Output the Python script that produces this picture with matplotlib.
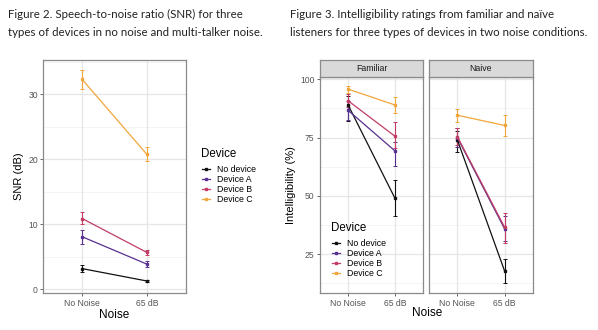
import matplotlib.pyplot as plt
import numpy as np
from matplotlib.lines import Line2D

noise_levels = ["No Noise", "65 dB"]
devices = ["No device", "Device A", "Device B", "Device C"]
colors = ["#111111", "#58308F", "#C23C64", "#F1A63C"]

# Figure 2: SNR (dB) mean, lower, upper
snr_mean = {"No device": [3.2, 1.3], "Device A": [8.1, 3.9], "Device B": [10.9, 5.7], "Device C": [32.3, 20.8]}
snr_low = {"No device": [2.7, 1.2], "Device A": [7.0, 3.4], "Device B": [10.0, 5.3], "Device C": [30.9, 19.8]}
snr_high = {"No device": [3.7, 1.4], "Device A": [9.2, 4.3], "Device B": [11.9, 6.1], "Device C": [33.8, 21.9]}

# Figure 3: intelligibility (%) for familiar / naive listeners
fam_mean = {"No device": [89.0, 49.0], "Device A": [86.7, 69.3], "Device B": [90.8, 75.6], "Device C": [95.8, 89.0]}
fam_low = {"No device": [82.0, 41.3], "Device A": [82.5, 62.8], "Device B": [88.0, 70.5], "Device C": [94.2, 85.5]}
fam_high = {"No device": [93.0, 56.7], "Device A": [90.5, 73.0], "Device B": [93.5, 81.7], "Device C": [97.3, 92.4]}

nai_mean = {"No device": [74.0, 17.7], "Device A": [75.0, 35.8], "Device B": [75.4, 36.5], "Device C": [84.6, 80.2]}
nai_low = {"No device": [69.0, 12.4], "Device A": [71.0, 30.5], "Device B": [72.0, 29.8], "Device C": [81.7, 75.6]}
nai_high = {"No device": [78.0, 22.7], "Device A": [79.0, 41.5], "Device B": [79.0, 42.6], "Device C": [87.4, 84.9]}

W, H = 598, 330
fig = plt.figure(figsize=(W / 100, H / 100), dpi=100)
plt.rcParams["font.family"] = ["Liberation Sans", "DejaVu Sans"]


def px_axes(x0, y0, x1, y1):
    return fig.add_axes([x0 / W, 1 - y1 / H, (x1 - x0) / W, (y1 - y0) / H])


def style_panel(ax, ylim, yticks, minor, show_y=True):
    ax.set_xlim(-0.6, 1.6)
    ax.set_ylim(*ylim)
    ax.set_xticks([0, 1], noise_levels)
    ax.set_yticks(yticks)
    for m in minor:
        ax.axhline(m, color="#F0F0F0", lw=0.5, zorder=0)
    for t in yticks:
        ax.axhline(t, color="#E6E6E6", lw=0.9, zorder=0)
    for x in [0, 1]:
        ax.axvline(x, color="#E6E6E6", lw=0.9, zorder=0)
    for s in ax.spines.values():
        s.set_color("#8A8A8A")
        s.set_linewidth(0.9)
    ax.tick_params(labelsize=6.2, colors="#4D4D4D", length=2.5, width=0.6, pad=1.5)
    ax.tick_params(axis="both", labelcolor="#555555")
    if not show_y:
        ax.tick_params(axis="y", left=False, labelleft=False)


def draw_series(ax, mean, low, high):
    x = np.arange(len(noise_levels))
    for dev, col in zip(devices, colors):
        m = np.array(mean[dev])
        lo = m - np.array(low[dev])
        hi = np.array(high[dev]) - m
        ax.errorbar(x, m, yerr=[lo, hi], color=col, lw=0.9, elinewidth=0.8,
                    capsize=1.5, capthick=0.7, marker="s", ms=1.8, zorder=3)


def strip(x0, x1, label):
    s = px_axes(x0, 60, x1, 77)
    s.set_facecolor("#D9D9D9")
    s.set_xticks([])
    s.set_yticks([])
    for sp in s.spines.values():
        sp.set_color("#8A8A8A")
        sp.set_linewidth(0.9)
    s.text(0.5, 0.5, label, ha="center", va="center", fontsize=6.3, color="#1A1A1A",
           transform=s.transAxes)


def device_legend(x, y):
    # title at (x, y) in pixels from top-left; entries 15 px below, 10 px apart
    fig.text(x / W, 1 - y / H, "Device", fontsize=8.3, ha="left", va="center")
    for i, (dev, col) in enumerate(zip(devices, colors)):
        yy = 1 - (y + 15 + 10 * i) / H
        fig.add_artist(Line2D([(x + 1) / W, (x + 9) / W], [yy, yy], color=col, lw=0.9))
        fig.add_artist(Line2D([(x + 5) / W], [yy], color=col, marker="s", ms=1.5))
        fig.text((x + 16) / W, yy, dev, fontsize=6.3, ha="left", va="center")


# --- Figure 2 -----------------------------------------------------------
ax1 = px_axes(43.5, 60, 185.5, 293)
draw_series(ax1, snr_mean, snr_low, snr_high)
style_panel(ax1, (-0.55, 35.3), [0, 10, 20, 30], [5, 15, 25, 35])
ax1.set_ylabel("SNR (dB)", fontsize=8, labelpad=3)
ax1.set_xlabel("Noise", fontsize=8.5, labelpad=1.0)
device_legend(201, 154)

# --- Figure 3 -----------------------------------------------------------
ax2 = px_axes(320, 77, 423, 293)
ax3 = px_axes(429, 77, 533, 293)
draw_series(ax2, fam_mean, fam_low, fam_high)
draw_series(ax3, nai_mean, nai_low, nai_high)
style_panel(ax2, (8.3, 101), [25, 50, 75, 100], [12.5, 37.5, 62.5, 87.5])
style_panel(ax3, (8.3, 101), [25, 50, 75, 100], [12.5, 37.5, 62.5, 87.5], show_y=False)
ax2.set_ylabel("Intelligibility (%)", fontsize=8, labelpad=3)
strip(320, 423, "Familiar")
strip(429, 533, "Naive")
fig.text(427 / W, 1 - 313 / H, "Noise", ha="center", va="center", fontsize=8.5)
device_legend(331, 228)

# captions
cap = dict(fontsize=8.25, color="#222222", family=["Lato", "DejaVu Sans"], va="center", ha="left")
fig.text(8 / W, 1 - 14 / H, "Figure 2. Speech-to-noise ratio (SNR) for three", **cap)
fig.text(8 / W, 1 - 32 / H, "types of devices in no noise and multi-talker noise.", **cap)
fig.text(290 / W, 1 - 14 / H, "Figure 3. Intelligibility ratings from familiar and na\u00efve", **cap)
fig.text(290 / W, 1 - 32 / H, "listeners for three types of devices in two noise conditions.", **cap)

fig.savefig("out.png", dpi=100)
